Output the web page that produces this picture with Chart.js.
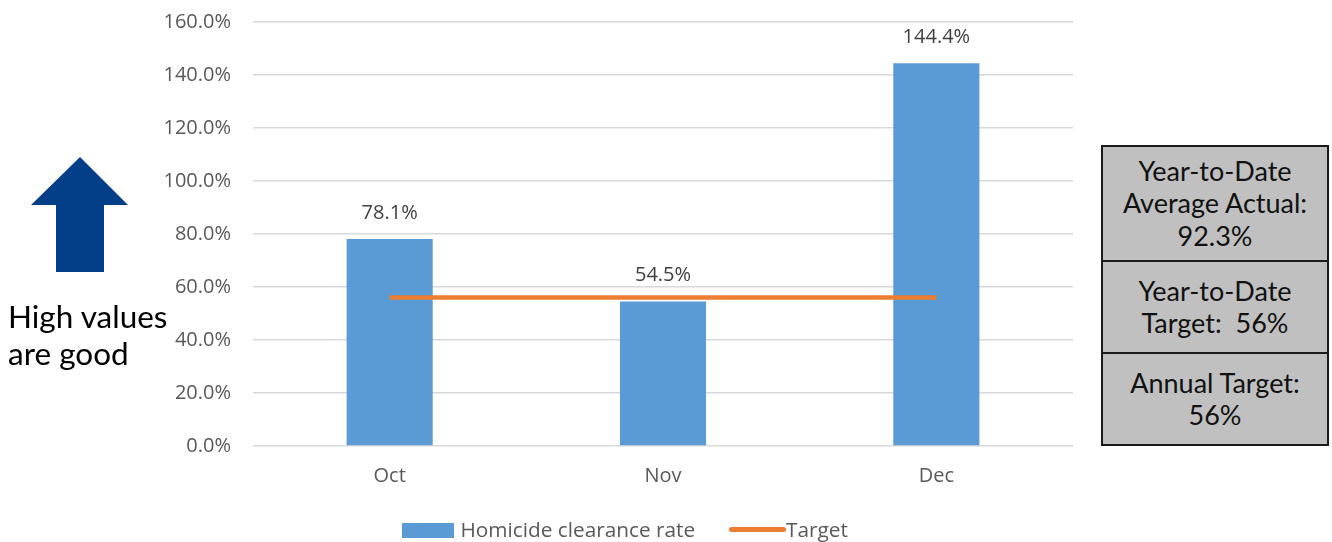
<!DOCTYPE html>
<html>
<head>
<meta charset="utf-8">
<script src="https://cdn.jsdelivr.net/npm/chart.js@4"></script>
<style>
  body { margin: 0; background: #fff; width: 1332px; height: 542px; overflow: hidden; position: relative; }
  #wrap { position: absolute; left: 0; top: 0; width: 1332px; height: 542px; }
  .note { position: absolute; left: 8px; top: 298px; font-family: Lato, sans-serif; font-size: 31.5px; line-height: 37px; color: #000; }
  .boxes { position: absolute; left: 1101px; top: 145px; width: 224px; border: 2px solid #1a1a1a; background: #c0c0c0; font-family: Lato, sans-serif; font-size: 27px; line-height: 32.5px; color: #111; text-align: center; }
  .boxes div { display: flex; align-items: center; justify-content: center; white-space: nowrap; }
  .boxes div + div { border-top: 2px solid #1a1a1a; }
  .legend { position: absolute; top: 515px; font-family: "Open Sans", sans-serif; font-size: 20.8px; color: #595959; }
</style>
</head>
<body>
<div id="wrap"><canvas id="chart"></canvas></div>

<svg style="position:absolute;left:0;top:0" width="140" height="290">
  <polygon points="80,157 128,205 104,205 104,272 56,272 56,205 31,205" fill="#023f88"/>
</svg>
<div class="note">High values<br>are good</div>

<div class="boxes">
  <div style="height:113px">Year-to-Date<br>Average Actual:<br>92.3%</div>
  <div style="height:90px">Year-to-Date<br>Target:&nbsp; 56%</div>
  <div style="height:90px">Annual Target:<br>56%</div>
</div>

<div class="legend" style="left:402px;">
  <span style="display:inline-block;width:52px;height:15px;background:#5b9bd5;vertical-align:-1px;"></span>
  <span style="margin-left:1px;">Homicide clearance rate</span>
</div>
<div class="legend" style="left:729px;">
  <span style="display:inline-block;width:57px;height:5px;border-radius:3px;background:#ed7d31;vertical-align:5px;"></span><span>Target</span>
</div>

<script>
// Data
const months = ['Oct', 'Nov', 'Dec'];
const clearanceRate = [78.1, 54.5, 144.4];
const target = [56, 56, 56];
const yTicks = [0, 20, 40, 60, 80, 100, 120, 140, 160];

// Value labels above bars
const barLabels = {
  id: 'barLabels',
  afterDatasetsDraw(chart) {
    const ctx = chart.ctx;
    const meta = chart.getDatasetMeta(0);
    ctx.save();
    ctx.font = '20px "Open Sans"';
    ctx.fillStyle = '#404040';
    ctx.textAlign = 'center';
    ctx.textBaseline = 'middle';
    meta.data.forEach((bar, i) => {
      ctx.fillText(clearanceRate[i].toFixed(1) + '%', bar.x, bar.y - 26);
    });
    ctx.restore();
  }
};

const ctx = document.getElementById('chart').getContext('2d');
new Chart(ctx, {
  type: 'bar',
  data: {
    labels: months,
    datasets: [{
      label: 'Homicide clearance rate',
      data: clearanceRate,
      backgroundColor: '#5b9bd5',
      barPercentage: 0.315,
      categoryPercentage: 1,
      order: 1
    }, {
      type: 'line',
      label: 'Target',
      data: target,
      borderColor: '#ed7d31',
      borderWidth: 4.5,
      pointRadius: 0,
      fill: false,
      order: 0
    }]
  },
  options: {
    responsive: true,
    maintainAspectRatio: false,
    animation: false,
    layout: { padding: { left: 163, right: 259, top: 22, bottom: 26 } },
    plugins: {
      legend: { display: false },
      tooltip: { enabled: false }
    },
    scales: {
      x: {
        grid: { display: false, drawTicks: false },
        border: { display: false },
        ticks: { color: '#595959', font: { family: 'Open Sans', size: 20 }, padding: 18 },
        afterFit(scale) { scale.height = 70; }
      },
      y: {
        min: 0,
        max: 160,
        afterBuildTicks(scale) { scale.ticks = yTicks.map(v => ({ value: v })); },
        // tick marks kept invisible, their length spaces the labels from the plot
        grid: { color: '#d9d9d9', lineWidth: 1.5, drawTicks: true, tickLength: 22, tickColor: 'transparent' },
        border: { display: false },
        ticks: {
          color: '#595959',
          font: { family: 'Open Sans', size: 20 },
          padding: 0,
          callback: v => v.toFixed(1) + '%'
        },
        afterFit(scale) { scale.width = 90; }
      }
    }
  },
  plugins: [barLabels]
});
</script>
</body>
</html>
